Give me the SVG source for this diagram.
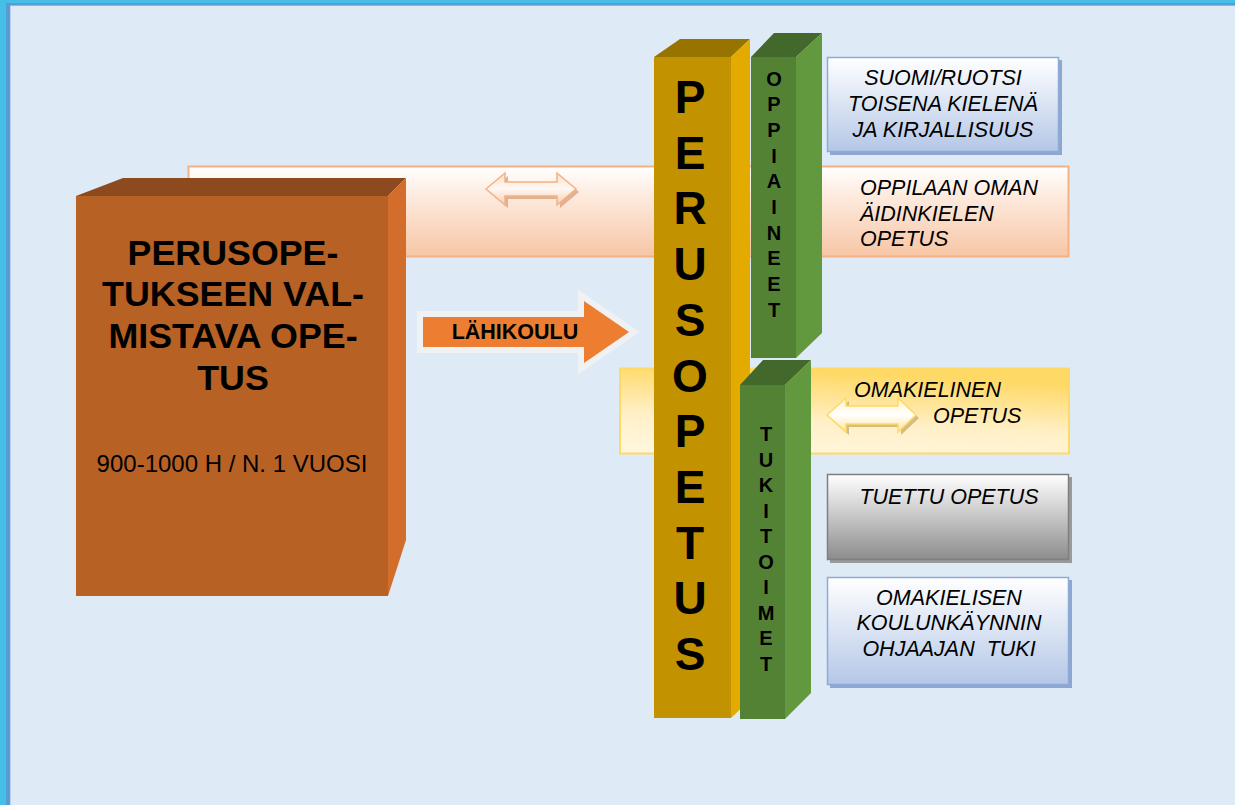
<svg xmlns="http://www.w3.org/2000/svg" width="1235" height="805" viewBox="0 0 1235 805">
<defs>
<style>
text{font-family:"Liberation Sans",Arial,sans-serif;fill:#000}
.big{font-weight:bold;font-size:35.8px;text-anchor:middle}
.col{font-weight:bold;font-size:46px;text-anchor:middle}
.sm{font-weight:bold;font-size:20px;text-anchor:middle}
.it{font-style:italic;font-size:21.5px}
.itc{font-style:italic;font-size:21.5px;text-anchor:middle}
</style>
<linearGradient id="gOrange" x1="0" y1="0" x2="0" y2="1">
<stop offset="0" stop-color="#ffffff"/><stop offset="0.35" stop-color="#fde9dc"/><stop offset="1" stop-color="#f7c6a5"/>
</linearGradient>
<linearGradient id="gYellow" x1="0" y1="1" x2="0.25" y2="0">
<stop offset="0" stop-color="#fff7e0"/><stop offset="0.45" stop-color="#fff0c8"/><stop offset="1" stop-color="#ffd966"/>
</linearGradient>
<linearGradient id="gBlue" x1="0" y1="0" x2="0" y2="1">
<stop offset="0" stop-color="#ffffff"/><stop offset="1" stop-color="#b4c7e7"/>
</linearGradient>
<linearGradient id="gGray" x1="0" y1="0" x2="0" y2="1">
<stop offset="0" stop-color="#ffffff"/><stop offset="1" stop-color="#8c8c8c"/>
</linearGradient>
<linearGradient id="gArrO" x1="0" y1="0" x2="0" y2="1">
<stop offset="0" stop-color="#fbe0cc"/><stop offset="0.5" stop-color="#fff8f3"/><stop offset="1" stop-color="#f8cbad"/>
</linearGradient>
<linearGradient id="gArrY" x1="0" y1="0" x2="0" y2="1">
<stop offset="0" stop-color="#fff2cc"/><stop offset="0.5" stop-color="#ffffff"/><stop offset="1" stop-color="#ffe699"/>
</linearGradient>
</defs>

<!-- frame / background -->
<rect x="0" y="0" width="1235" height="805" fill="#45bfe8"/>
<rect x="6" y="3" width="1229" height="802" fill="#5b9bd5"/>
<rect x="10" y="5.5" width="1225" height="800" fill="#b9d3ee"/>
<rect x="11" y="6" width="1224" height="799" fill="#deeaf6"/>

<!-- bands -->
<g id="band-oppilaan">
<rect x="188.5" y="166.5" width="880" height="90" fill="url(#gOrange)" stroke="#f4b183" stroke-width="2"/>
<text class="it" x="860" y="195">OPPILAAN OMAN</text>
<text class="it" x="860" y="221">ÄIDINKIELEN</text>
<text class="it" x="860" y="246">OPETUS</text>
</g>
<g id="band-omakielinen">
<rect x="620" y="368.5" width="449" height="85" fill="url(#gYellow)" stroke="#ffd966" stroke-width="2"/>
<text class="it" x="854" y="397">OMAKIELINEN</text>
<text class="it" x="933" y="423">OPETUS</text>
</g>

<!-- brown box -->
<g id="valmistava">
<polygon points="76,196 123,178 406,178 388,196" fill="#8c4a1e"/>
<polygon points="388,196 406,178 406,540 388,596" fill="#d26d2c"/>
<rect x="76" y="196" width="312" height="400" fill="#b86125"/>
<text class="big" x="233" y="265">PERUSOPE-</text>
<text class="big" x="233" y="306">TUKSEEN VAL-</text>
<text class="big" x="233" y="348">MISTAVA OPE-</text>
<text class="big" x="233" y="390">TUS</text>
<text x="232" y="472" style="font-size:24px;text-anchor:middle">900-1000 H / N. 1 VUOSI</text>
</g>

<!-- PERUSOPETUS column -->
<g id="perusopetus">
<polygon points="654,57 680,39 750,39 731,57" fill="#977300"/>
<polygon points="731,57 750,39 750,700 731,718" fill="#e3ab00"/>
<rect x="654" y="57" width="77" height="661" fill="#c39200"/>
<text class="col" x="690" y="113">P</text>
<text class="col" x="690" y="169">E</text>
<text class="col" x="690" y="224">R</text>
<text class="col" x="690" y="280">U</text>
<text class="col" x="690" y="336">S</text>
<text class="col" x="690" y="392">O</text>
<text class="col" x="690" y="447">P</text>
<text class="col" x="690" y="503">E</text>
<text class="col" x="690" y="559">T</text>
<text class="col" x="690" y="614">U</text>
<text class="col" x="690" y="670">S</text>
</g>

<!-- OPPIAINEET column -->
<g id="oppiaineet">
<polygon points="751,57 774,33 822,33 796,57" fill="#43682b"/>
<polygon points="796,57 822,33 822,333 796,358" fill="#62993e"/>
<rect x="751" y="57" width="45" height="301" fill="#548235"/>
<text class="sm" x="774" y="86">O</text>
<text class="sm" x="774" y="111">P</text>
<text class="sm" x="774" y="137">P</text>
<text class="sm" x="774" y="163">I</text>
<text class="sm" x="774" y="188">A</text>
<text class="sm" x="774" y="214">I</text>
<text class="sm" x="774" y="240">N</text>
<text class="sm" x="774" y="265">E</text>
<text class="sm" x="774" y="291">E</text>
<text class="sm" x="774" y="317">T</text>
</g>

<!-- TUKITOIMET column -->
<g id="tukitoimet">
<polygon points="740,385 763,360 811,360 785,385" fill="#43682b"/>
<polygon points="785,385 811,360 811,693 785,719" fill="#62993e"/>
<rect x="740" y="385" width="45" height="334" fill="#548235"/>
<text class="sm" x="766" y="441">T</text>
<text class="sm" x="766" y="467">U</text>
<text class="sm" x="766" y="492">K</text>
<text class="sm" x="766" y="518">I</text>
<text class="sm" x="766" y="543">T</text>
<text class="sm" x="766" y="569">O</text>
<text class="sm" x="766" y="594">I</text>
<text class="sm" x="766" y="620">M</text>
<text class="sm" x="766" y="645">E</text>
<text class="sm" x="766" y="671">T</text>
</g>

<!-- right boxes -->
<g id="suomi-ruotsi">
<rect x="830" y="60" width="232" height="95" fill="#8ea7cf"/>
<rect x="827.5" y="57.5" width="231" height="94" fill="url(#gBlue)" stroke="#8eaadb" stroke-width="1.5"/>
<text class="itc" x="943" y="85">SUOMI/RUOTSI</text>
<text class="itc" x="943" y="111">TOISENA KIELENÄ</text>
<text class="itc" x="943" y="137">JA KIRJALLISUUS</text>
</g>
<g id="tuettu-opetus">
<rect x="830" y="477" width="242" height="86" fill="#9a9a9a"/>
<rect x="827.5" y="474.5" width="241" height="85" fill="url(#gGray)" stroke="#7f7f7f" stroke-width="1.5"/>
<text class="itc" x="949" y="504">TUETTU OPETUS</text>
</g>
<g id="ohjaajan-tuki">
<rect x="830" y="580" width="242" height="108" fill="#8ea7cf"/>
<rect x="827.5" y="577.5" width="241" height="107" fill="url(#gBlue)" stroke="#8eaadb" stroke-width="1.5"/>
<text class="itc" x="949" y="605">OMAKIELISEN</text>
<text class="itc" x="949" y="630">KOULUNKÄYNNIN</text>
<text class="itc" x="949" y="656" xml:space="preserve">OHJAAJAN  TUKI</text>
</g>

<!-- connectors / arrows -->
<g id="connectors">
<path d="M489,192 L508,176 L508,185 L560,185 L560,176 L579,192 L560,208 L560,199 L508,199 L508,208 Z" fill="#d9a27e" opacity="0.8"/>
<path d="M486,189 L505,173 L505,182 L557,182 L557,173 L576,189 L557,205 L557,196 L505,196 L505,205 Z" fill="url(#gArrO)" stroke="#f4b183" stroke-width="1.5"/>
<path d="M830,418 L849,401 L849,409 L901,409 L901,401 L919,418 L901,435 L901,427 L849,427 L849,435 Z" fill="#c9b070" opacity="0.8"/>
<path d="M827,415 L846,398 L846,406 L898,406 L898,398 L916,415 L898,432 L898,424 L846,424 L846,432 Z" fill="url(#gArrY)" stroke="#ffd966" stroke-width="1.5"/>
<path d="M423,317 L584,317 L584,301 L629,332 L584,363 L584,347 L423,347 Z" fill="#ed7d31" stroke="#f2f2f2" stroke-width="12" stroke-linejoin="miter" opacity="0.9"/>
<path d="M423,317 L584,317 L584,301 L629,332 L584,363 L584,347 L423,347 Z" fill="#ed7d31"/>
<text x="515" y="339" style="font-weight:bold;font-size:21.5px;text-anchor:middle">LÄHIKOULU</text>
</g>
</svg>
